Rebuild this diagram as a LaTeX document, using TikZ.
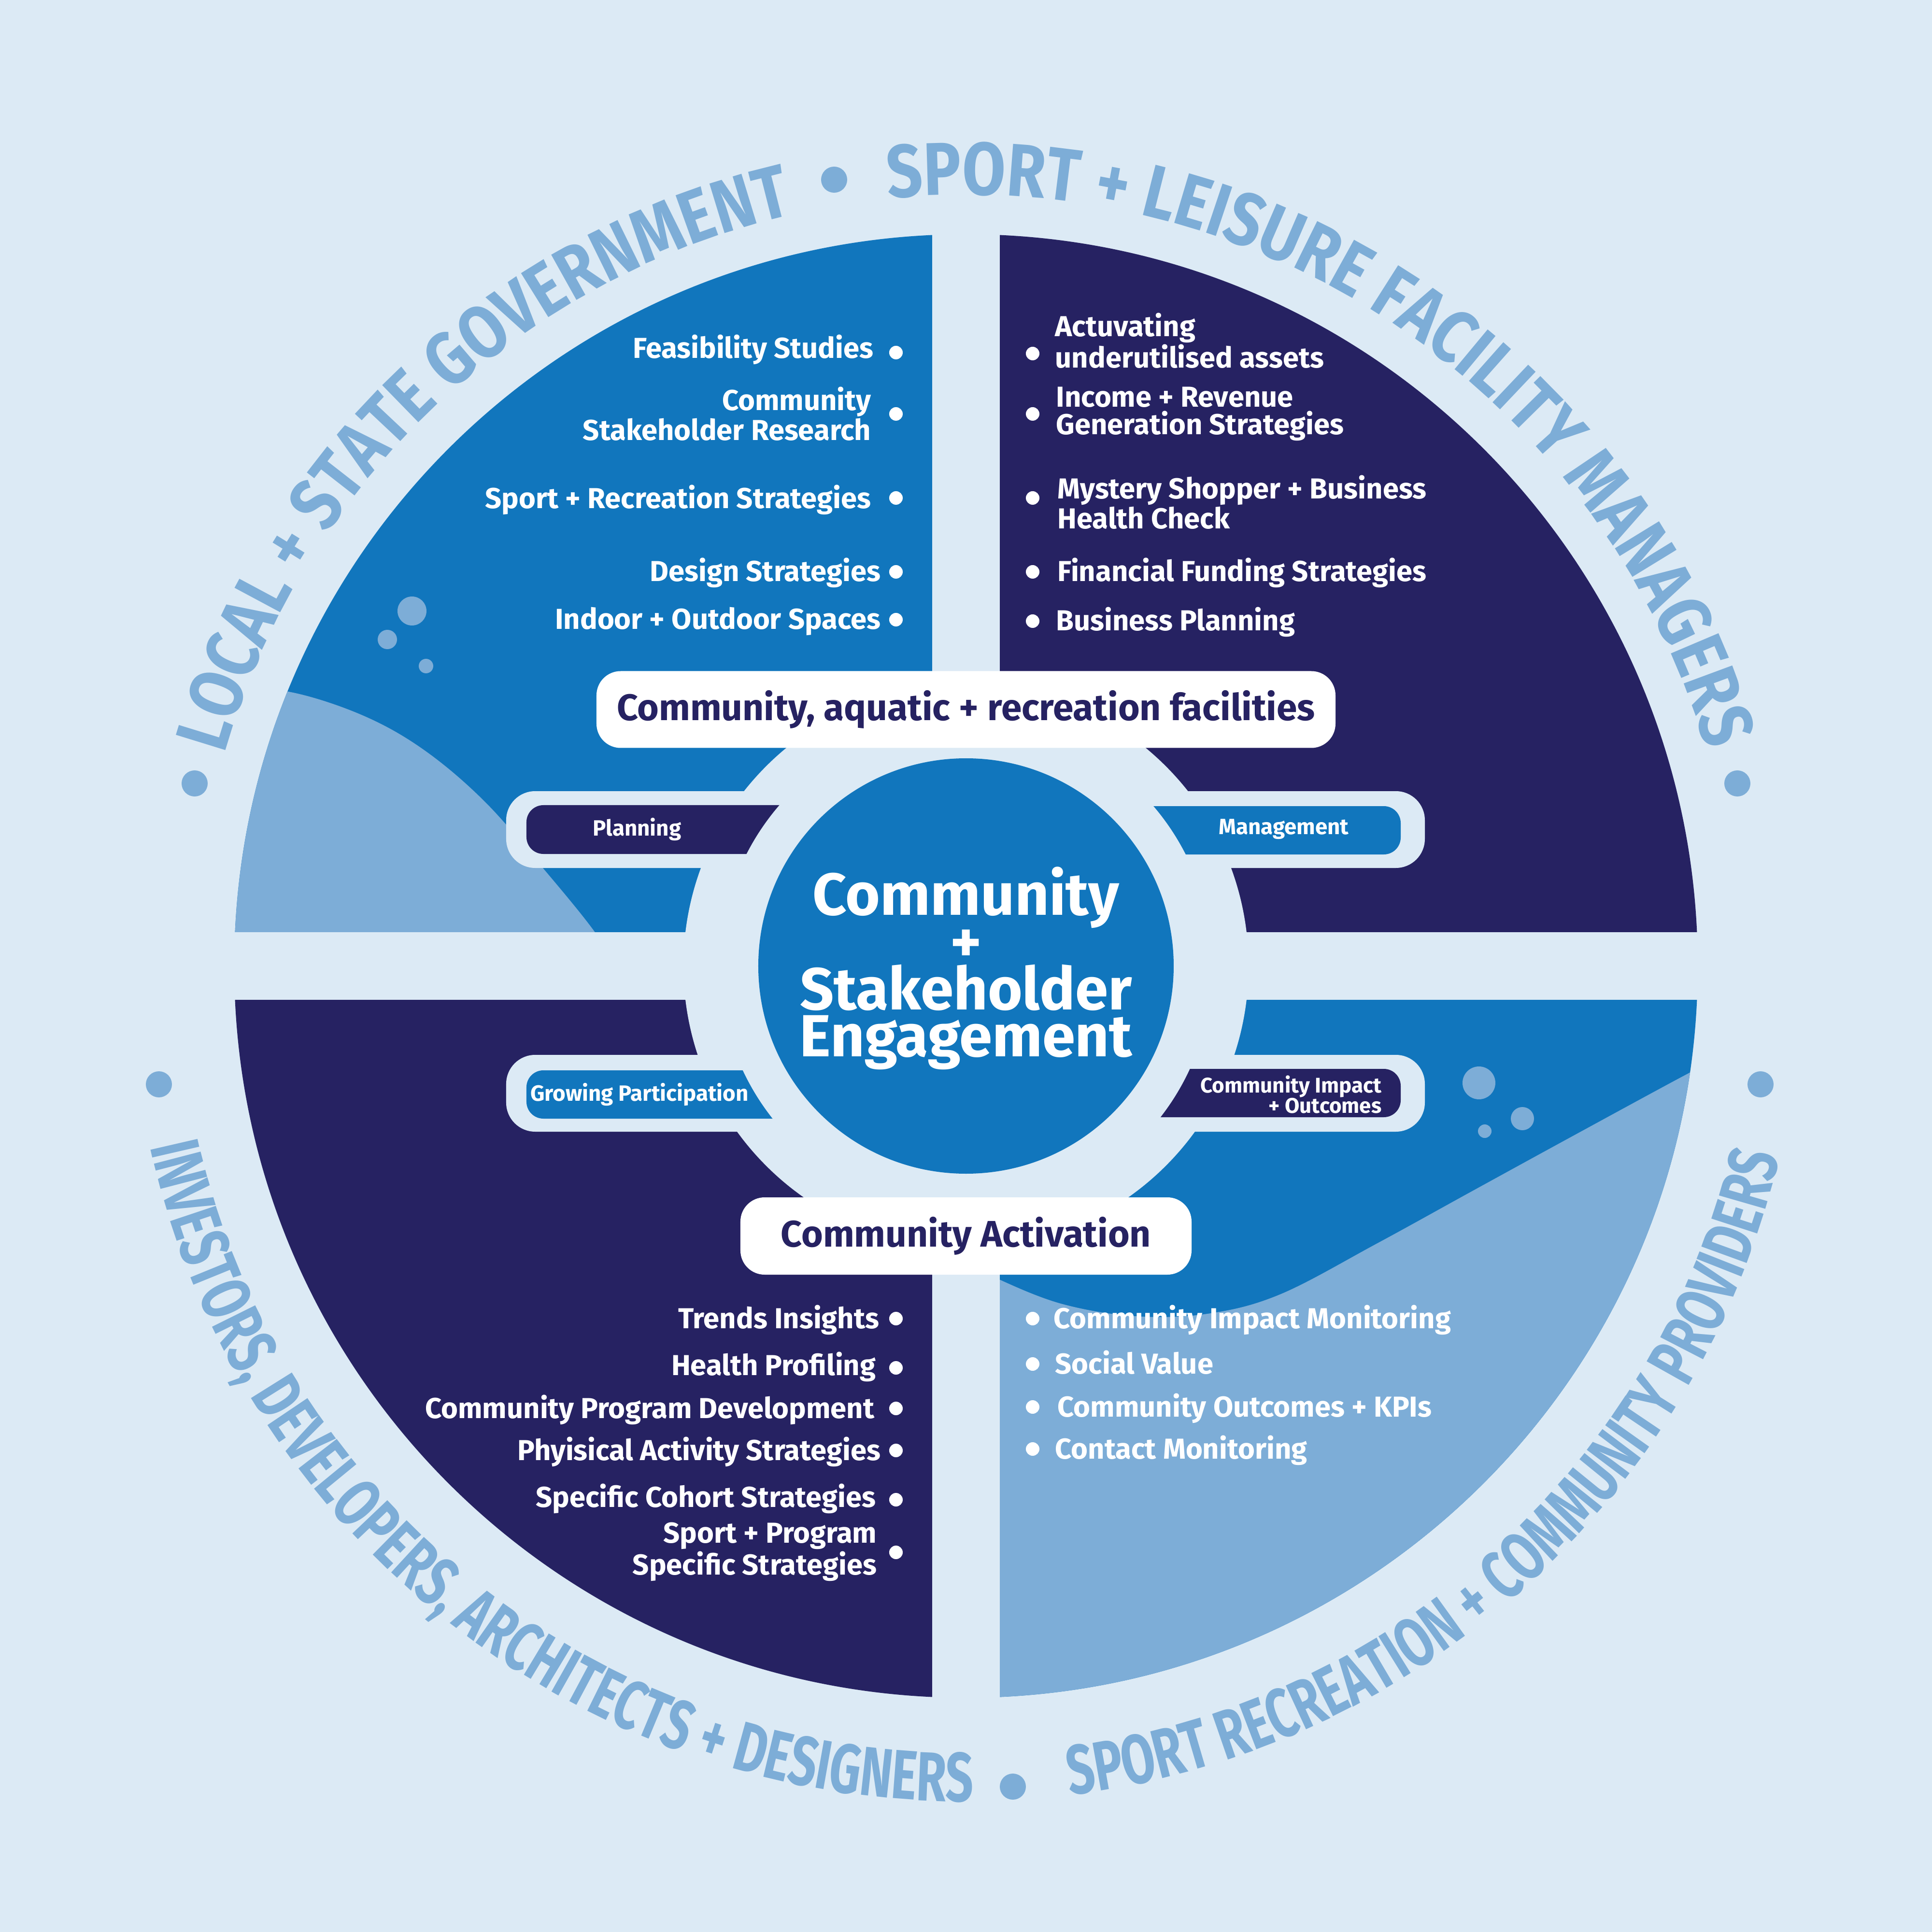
\documentclass[tikz,border=0pt]{standalone}
\usepackage{fontspec}
\setmainfont{Fira Sans}
\newfontfamily\topring{Fira Sans}[FakeStretch=0.84]
\newfontfamily\botring{Fira Sans}[FakeStretch=0.7]
\usetikzlibrary{decorations.text}
\definecolor{bgblue}{HTML}{DCEAF5}
\definecolor{midblue}{HTML}{1176BD}
\definecolor{navy}{HTML}{262262}
\definecolor{paleblue}{HTML}{7DADD7}
\newcommand\topringfont{\topring\bfseries\fontsize{44}{44}\selectfont}
\newcommand\botringfont{\botring\bfseries\fontsize{41}{41}\selectfont}
\begin{document}
\begin{tikzpicture}[
    item/.style={text=white, inner sep=0pt, font=\fontsize{17}{16}\selectfont\bfseries},
    bullet/.style={circle, fill=white, inner sep=0pt, minimum size=0.28cm},
    tabtext/.style={text=white, inner sep=0pt, font=\fontsize{13}{13}\selectfont\bfseries},
    labelbox/.style={fill=white, rounded corners=0.5cm, text=navy, inner sep=0pt, font=\fontsize{21.8}{21.8}\selectfont\bfseries},
    ringtext/.style={decorate, decoration={text along path, text align=center, text color=paleblue}}
  ]
  \useasboundingbox (-20,-20) rectangle (20,20);
  \fill[bgblue] (-20,-20) rectangle (20,20);

  % quadrants
  \fill[midblue] (0,0) -- (-15.15,0) arc[start angle=180, end angle=90, radius=15.15] -- cycle;
  \fill[navy] (0,0) -- (0,15.15) arc[start angle=90, end angle=0, radius=15.15] -- cycle;
  \fill[navy] (0,0) -- (0,-15.15) arc[start angle=270, end angle=180, radius=15.15] -- cycle;
  \fill[midblue] (0,0) -- (15.15,0) arc[start angle=0, end angle=-90, radius=15.15] -- cycle;

  % waves + bubbles
  \begin{scope}
    \clip (0,0) circle (15.15);
    \fill[paleblue] plot[smooth, tension=0.6] coordinates {(-15.2,5.7) (-14.03,5.68) (-12.54,5.21) (-11.26,4.5) (-9.99,3.43) (-8.77,2.04) (-7.69,0.71) (-7.3,0)} -- (-16,0) -- cycle;
    \fill[paleblue] plot[smooth, tension=0.6] coordinates {(0,-6.1) (0.71,-6.5) (2.0,-7.0) (3.5,-7.25) (5.0,-7.2) (6.5,-6.8) (8.5,-5.75) (10.5,-4.65) (12.6,-3.5) (14.98,-2.21) (16,-1.7)} -- (16,-16) -- (0,-16) -- cycle;
  \end{scope}
  \fill[paleblue] (-11.47,7.35) circle (0.3);
  \fill[paleblue] (-11.98,6.76) circle (0.2);
  \fill[paleblue] (-11.18,6.21) circle (0.15);
  \fill[paleblue] (10.62,-2.42) circle (0.34);
  \fill[paleblue] (11.52,-3.16) circle (0.24);
  \fill[paleblue] (10.74,-3.42) circle (0.14);

  % gaps and ring
  \fill[bgblue] (-0.70,-15.5) rectangle (0.70,15.5);
  \fill[bgblue] (-15.5,-0.70) rectangle (15.5,0.70);
  \fill[bgblue] (0,0) circle (5.85);

  % tabs
  \fill[bgblue, rounded corners=0.6cm] (-9.52,2.03) rectangle (-3,3.62);
  \fill[navy, rounded corners=0.35cm] (-9.10,2.32) rectangle (-3,3.33);
  \fill[bgblue, rounded corners=0.6cm] (3,2.03) rectangle (9.5,3.62);
  \fill[midblue, rounded corners=0.35cm] (3,2.31) rectangle (9.0,3.31);
  \fill[bgblue, rounded corners=0.6cm] (-9.52,-3.43) rectangle (-3,-1.84);
  \fill[midblue, rounded corners=0.35cm] (-9.10,-3.16) rectangle (-3,-2.16);
  \fill[bgblue, rounded corners=0.6cm] (3,-3.43) rectangle (9.5,-1.84);
  \fill[navy, rounded corners=0.35cm] (3,-3.13) rectangle (9.0,-2.13);
  \fill[bgblue] (0,0) circle (5.1);

  % hub
  \node (hub) at (0,0) [circle, fill=midblue, inner sep=0pt, minimum size=8.6cm] {};
  \node (hubtext) at (0,-0.05) [text=white, align=center, font=\fontsize{35}{27.8}\selectfont\bfseries] {Community\\+\\Stakeholder\\Engagement};

  \node (planning) at (-6.81,2.83) [tabtext] {Planning};
  \node (management) at (6.58,2.83) [tabtext] {Management};
  \node (growing) at (-6.76,-2.66) [tabtext] {Growing Participation};
  \node (impact) at (6.73,-2.66) [tabtext, align=right, font=\fontsize{12.5}{12.2}\selectfont\bfseries] {Community Impact\\+ Outcomes\hspace{0.3cm}};

  \node (facilities) at (0,5.31) [labelbox, minimum width=15.3cm, minimum height=1.59cm] {Community, aquatic + recreation facilities};
  \node (activation) at (0,-5.59) [labelbox, minimum width=9.34cm, minimum height=1.6cm] {Community Activation};

  % top left list
  \node (feas) at (-1.91,12.58) [item, anchor=base east] {Feasibility Studies};
  \node (research) at (-1.96,11.43) [item, anchor=east, align=right] {Community\\Stakeholder Research};
  \node (sportrec) at (-1.96,9.47) [item, anchor=base east] {Sport + Recreation Strategies};
  \node (design) at (-1.76,7.96) [item, anchor=base east] {Design Strategies};
  \node (indoor) at (-1.76,6.97) [item, anchor=base east] {Indoor + Outdoor Spaces};
  \foreach \y/\n in {12.70/a, 11.43/b, 9.69/c, 8.16/d, 7.17/e}
    \node (tl\n) at (-1.45,\y) [bullet] {};

  % top right list
  \node (assets) at (1.84,12.95) [item, anchor=west, align=left] {Actuvating\\underutilised assets};
  \node (income) at (1.86,11.43) [item, anchor=west, align=left] {Income + Revenue\\Generation Strategies};
  \node (mystery) at (1.89,9.60) [item, anchor=west, align=left] {Mystery Shopper + Business\\Health Check};
  \node (funding) at (1.89,7.96) [item, anchor=base west] {Financial Funding Strategies};
  \node (business) at (1.86,6.94) [item, anchor=base west] {Business Planning};
  \foreach \y/\n in {12.68/a, 11.43/b, 9.69/c, 8.16/d, 7.14/e}
    \node (tr\n) at (1.38,\y) [bullet] {};

  % bottom left list
  \node (trends) at (-1.79,-7.50) [item, anchor=base east] {Trends Insights};
  \node (health) at (-1.86,-8.47) [item, anchor=base east] {Health Profiling};
  \node (program) at (-1.89,-9.36) [item, anchor=base east] {Community Program Development};
  \node (activity) at (-1.76,-10.23) [item, anchor=base east] {Phyisical Activity Strategies};
  \node (cohort) at (-1.86,-11.20) [item, anchor=base east] {Specific Cohort Strategies};
  \node (sportprog) at (-1.84,-12.13) [item, anchor=east, align=right] {Sport + Program\\Specific Strategies};
  \foreach \y/\n in {-7.30/a, -8.32/b, -9.16/c, -10.03/d, -11.05/e, -12.14/f}
    \node (bl\n) at (-1.45,\y) [bullet] {};

  % bottom right list
  \node (monitor) at (1.81,-7.50) [item, anchor=base west] {Community Impact Monitoring};
  \node (social) at (1.84,-8.44) [item, anchor=base west] {Social Value};
  \node (kpis) at (1.89,-9.33) [item, anchor=base west] {Community Outcomes + KPIs};
  \node (contact) at (1.84,-10.20) [item, anchor=base west] {Contact Monitoring};
  \foreach \y/\n in {-7.30/a, -8.24/b, -9.13/c, -10.0/d}
    \node (br\n) at (1.38,\y) [bullet] {};

  % outer ring labels
  \path[ringtext, decoration={text={|\topringfont|LOCAL + STATE GOVERNMENT}}]
    (183.5:15.97) arc[start angle=183.5, end angle=83.5, radius=15.97];
  \path[ringtext, decoration={text={|\topringfont|SPORT + LEISURE FACILITY MANAGERS}}]
    (106:15.97) arc[start angle=106, end angle=6, radius=15.97];
  \path[ringtext, decoration={text={|\botringfont|INVESTORS, DEVELOPERS, ARCHITECTS + DESIGNERS}}]
    (181.5:17.3) arc[start angle=181.5, end angle=281.5, radius=17.3];
  \path[ringtext, decoration={text={|\botringfont|SPORT RECREATION + COMMUNITY PROVIDERS}}]
    (262:17.3) arc[start angle=262, end angle=362, radius=17.3];
  \foreach \p in {(-15.97,3.78), (-2.73,16.28), (15.97,3.78), (-16.71,-2.45), (16.45,-2.45), (0.97,-16.99)}
    \fill[paleblue] \p circle (0.27);
\end{tikzpicture}
\end{document}
